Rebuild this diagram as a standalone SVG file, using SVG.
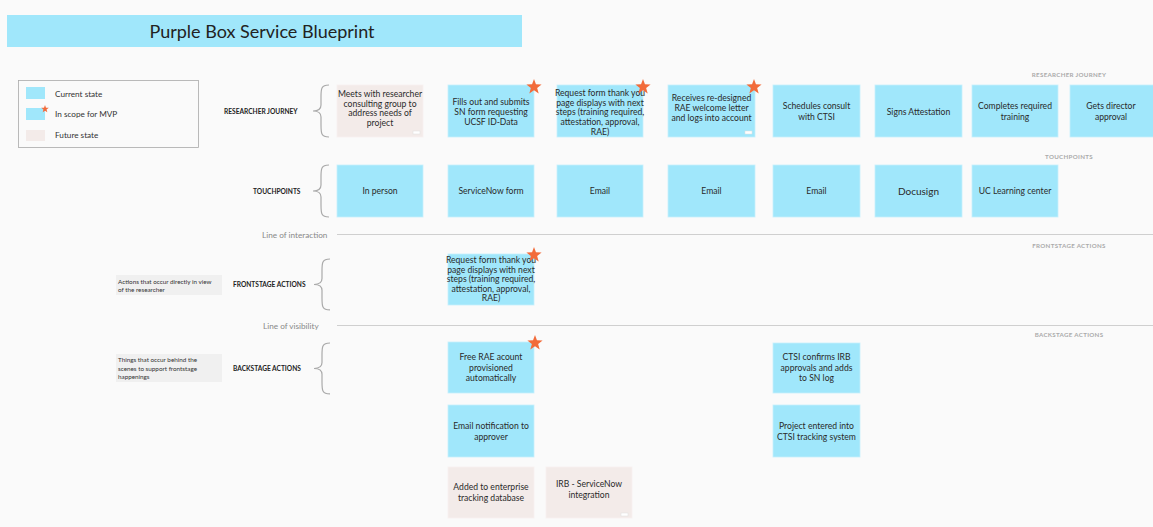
<svg xmlns="http://www.w3.org/2000/svg" width="1153" height="527" viewBox="0 0 1153 527">
<style>
  .bg{fill:#fafafa}
  .cur{fill:#a0e7fb;stroke:#c6f0fc;stroke-width:0.8}
  .fut{fill:#f3ebe9;stroke:#f7f1ef;stroke-width:0.8}
  .t{font-family:Lato,"Liberation Sans",sans-serif;font-size:8.6px;fill:#2a2a2a;text-anchor:middle}
  .rowl{font-family:Lato,"Liberation Sans",sans-serif;font-size:6.6px;font-weight:bold;fill:#222}
  .rl{font-family:Lato,"Liberation Sans",sans-serif;font-size:6.2px;font-weight:bold;fill:#aaa;text-anchor:middle;letter-spacing:0.3px}
  .desc{font-family:Lato,"Liberation Sans",sans-serif;font-size:6.3px;fill:#333}
  .descbox{fill:#f0f0f0}
  .ll{font-family:Lato,"Liberation Sans",sans-serif;font-size:8.2px;fill:#888}
  .div{stroke:#cfcfcf;stroke-width:1.2}
  .brace{fill:none;stroke:#aaa;stroke-width:1.2}
  .star{fill:#f26b3a}
  .lg{font-family:Lato,"Liberation Sans",sans-serif;font-size:8.2px;fill:#333}
  .mk{fill:#fff;stroke:#ddd;stroke-width:0.5}
</style>
<defs>
  <polygon id="star" class="star" points="0,-8 1.94,-2.67 7.61,-2.47 3.14,1.02 4.7,6.47 0,3.3 -4.7,6.47 -3.14,1.02 -7.61,-2.47 -1.94,-2.67"/>
  <path id="brace" class="brace" d="M16,0 C8,0 8,4 8,12 L8,20 C8,24 6,26 0,26 C6,26 8,28 8,32 L8,40 C8,48 8,52 16,52"/>
</defs>
<rect class="bg" x="0" y="0" width="1153" height="527"/>

<g id="title">
  <rect x="7" y="15" width="515" height="32" fill="#a0e7fb"/>
  <text x="262" y="37.5" font-family="Lato,'Liberation Sans',sans-serif" font-size="18" fill="#222" text-anchor="middle">Purple Box Service Blueprint</text>
</g>

<g id="legend">
  <rect x="18.5" y="80.5" width="180" height="67" fill="#fafafa" stroke="#aaa" stroke-width="0.8"/>
  <rect x="26" y="87" width="19" height="12" fill="#a0e7fb"/>
  <text class="lg" x="55" y="96.5">Current state</text>
  <rect x="26" y="108" width="19" height="12" fill="#a0e7fb"/>
  <use href="#star" transform="translate(45,109) scale(0.5)"/>
  <text class="lg" x="55" y="116.5">In scope for MVP</text>
  <rect x="26" y="130" width="19" height="11" fill="#f3ebe9"/>
  <text class="lg" x="55" y="138">Future state</text>
</g>

<g id="lane-labels">
  <text class="rowl" x="224" y="113.5">RESEARCHER JOURNEY</text>
  <use href="#brace" transform="translate(313,85)"/>
  <text class="rowl" x="253" y="193.5">TOUCHPOINTS</text>
  <use href="#brace" transform="translate(313,165)"/>
  <rect class="descbox" x="116" y="275" width="106" height="20"/>
  <text class="desc" x="118" y="283.5">Actions that occur directly in view</text>
  <text class="desc" x="118" y="291.5">of the researcher</text>
  <text class="rowl" x="233" y="286.5">FRONTSTAGE ACTIONS</text>
  <use href="#brace" transform="translate(314,259) scale(1,0.98)"/>
  <rect class="descbox" x="116" y="354" width="106" height="28"/>
  <text class="desc" x="118" y="362">Things that occur behind the</text>
  <text class="desc" x="118" y="370.5">scenes to support frontstage</text>
  <text class="desc" x="118" y="379">happenings</text>
  <text class="rowl" x="233" y="370.5">BACKSTAGE ACTIONS</text>
  <use href="#brace" transform="translate(314,343) scale(1,0.98)"/>
  <text class="rl" x="1069" y="77">RESEARCHER JOURNEY</text>
  <text class="rl" x="1069" y="159">TOUCHPOINTS</text>
  <text class="rl" x="1069" y="248">FRONTSTAGE ACTIONS</text>
  <text class="rl" x="1069" y="337">BACKSTAGE ACTIONS</text>
</g>

<g id="dividers">
  <text class="ll" x="262" y="237.5">Line of interaction</text>
  <line class="div" x1="337" y1="234.5" x2="1153" y2="234.5"/>
  <text class="ll" x="263" y="328.5">Line of visibility</text>
  <line class="div" x1="337" y1="325.5" x2="1153" y2="325.5"/>
</g>

<g id="connectors"></g>

<!-- Researcher journey -->
<g id="rj-meets">
  <rect class="fut" x="337" y="85" width="86" height="52"/>
  <text class="t"><tspan x="380" y="97">Meets with researcher</tspan><tspan x="380" y="106.5">consulting group to</tspan><tspan x="380" y="116">address needs of</tspan><tspan x="380" y="125.5">project</tspan></text>
  <rect class="mk" x="413" y="131" width="7" height="3"/>
</g>
<g id="rj-fills">
  <rect class="cur" x="448" y="85" width="86" height="52"/>
  <text class="t"><tspan x="491" y="105">Fills out and submits</tspan><tspan x="491" y="115">SN form requesting</tspan><tspan x="491" y="125">UCSF ID-Data</tspan></text>
  <use href="#star" transform="translate(534,87)"/>
</g>
<g id="rj-request">
  <rect class="cur" x="557" y="85" width="86" height="52"/>
  <text class="t"><tspan x="600" y="96">Request form thank you</tspan><tspan x="600" y="105.7">page displays with next</tspan><tspan x="600" y="115.4">steps (training required,</tspan><tspan x="600" y="125.1">attestation, approval,</tspan><tspan x="600" y="134.8">RAE)</tspan></text>
  <use href="#star" transform="translate(643,87)"/>
</g>
<g id="rj-receives">
  <rect class="cur" x="668" y="85" width="87" height="52"/>
  <text class="t"><tspan x="711.5" y="101">Receives re-designed</tspan><tspan x="711.5" y="111">RAE welcome letter</tspan><tspan x="711.5" y="121">and logs into account</tspan></text>
  <rect class="mk" x="745" y="131" width="7" height="3"/>
  <use href="#star" transform="translate(754,87)"/>
</g>
<g id="rj-schedules">
  <rect class="cur" x="773" y="85" width="87" height="52"/>
  <text class="t"><tspan x="816.5" y="109">Schedules consult</tspan><tspan x="816.5" y="120">with CTSI</tspan></text>
</g>
<g id="rj-signs">
  <rect class="cur" x="875" y="85" width="87" height="52"/>
  <text class="t" x="918.5" y="114.5">Signs Attestation</text>
</g>
<g id="rj-completes">
  <rect class="cur" x="972" y="85" width="86" height="52"/>
  <text class="t"><tspan x="1015" y="109">Completes required</tspan><tspan x="1015" y="120">training</tspan></text>
</g>
<g id="rj-director">
  <rect class="cur" x="1070" y="85" width="86" height="52"/>
  <text class="t"><tspan x="1111" y="109">Gets director</tspan><tspan x="1111" y="120">approval</tspan></text>
</g>

<!-- Touchpoints -->
<g id="tp-inperson">
  <rect class="cur" x="337" y="165" width="86" height="52"/>
  <text class="t" x="380" y="194">In person</text>
</g>
<g id="tp-servicenow">
  <rect class="cur" x="448" y="165" width="86" height="52"/>
  <text class="t" x="491" y="194">ServiceNow form</text>
</g>
<g id="tp-email1">
  <rect class="cur" x="557" y="165" width="86" height="52"/>
  <text class="t" x="600" y="194">Email</text>
</g>
<g id="tp-email2">
  <rect class="cur" x="668" y="165" width="87" height="52"/>
  <text class="t" x="711.5" y="194">Email</text>
</g>
<g id="tp-email3">
  <rect class="cur" x="773" y="165" width="87" height="52"/>
  <text class="t" x="816.5" y="194">Email</text>
</g>
<g id="tp-docusign">
  <rect class="cur" x="875" y="165" width="87" height="52"/>
  <text class="t" x="918.5" y="195" style="font-size:10px">Docusign</text>
</g>
<g id="tp-learning">
  <rect class="cur" x="972" y="165" width="86" height="52"/>
  <text class="t" x="1015" y="194">UC Learning center</text>
</g>

<!-- Frontstage -->
<g id="fs-request">
  <rect class="cur" x="448" y="254" width="86" height="51"/>
  <text class="t"><tspan x="491" y="263">Request form thank you</tspan><tspan x="491" y="272.5">page displays with next</tspan><tspan x="491" y="282">steps (training required,</tspan><tspan x="491" y="291.5">attestation, approval,</tspan><tspan x="491" y="301">RAE)</tspan></text>
  <use href="#star" transform="translate(534,255)"/>
</g>

<!-- Backstage -->
<g id="bs-rae">
  <rect class="cur" x="448" y="342" width="86" height="51"/>
  <text class="t"><tspan x="491" y="360">Free RAE acount</tspan><tspan x="491" y="370.5">provisioned</tspan><tspan x="491" y="381">automatically</tspan></text>
  <use href="#star" transform="translate(535,343)"/>
</g>
<g id="bs-email">
  <rect class="cur" x="448" y="405" width="86" height="52"/>
  <text class="t"><tspan x="491" y="429">Email notification to</tspan><tspan x="491" y="439.5">approver</tspan></text>
</g>
<g id="bs-enterprise">
  <rect class="fut" x="448" y="467" width="86" height="51"/>
  <text class="t"><tspan x="491" y="490">Added to enterprise</tspan><tspan x="491" y="500.5">tracking database</tspan></text>
</g>
<g id="bs-irb">
  <rect class="fut" x="546" y="467" width="86" height="51"/>
  <text class="t"><tspan x="589" y="487">IRB - ServiceNow</tspan><tspan x="589" y="497.5">integration</tspan></text>
  <rect class="mk" x="621" y="513" width="7" height="3"/>
</g>
<g id="bs-ctsi-irb">
  <rect class="cur" x="773" y="343" width="87" height="50"/>
  <text class="t"><tspan x="816.5" y="360">CTSI confirms IRB</tspan><tspan x="816.5" y="370.5">approvals and adds</tspan><tspan x="816.5" y="381">to SN log</tspan></text>
</g>
<g id="bs-ctsi-track">
  <rect class="cur" x="773" y="405" width="87" height="52"/>
  <text class="t"><tspan x="816.5" y="429">Project entered into</tspan><tspan x="816.5" y="439.5">CTSI tracking system</tspan></text>
</g>
</svg>
